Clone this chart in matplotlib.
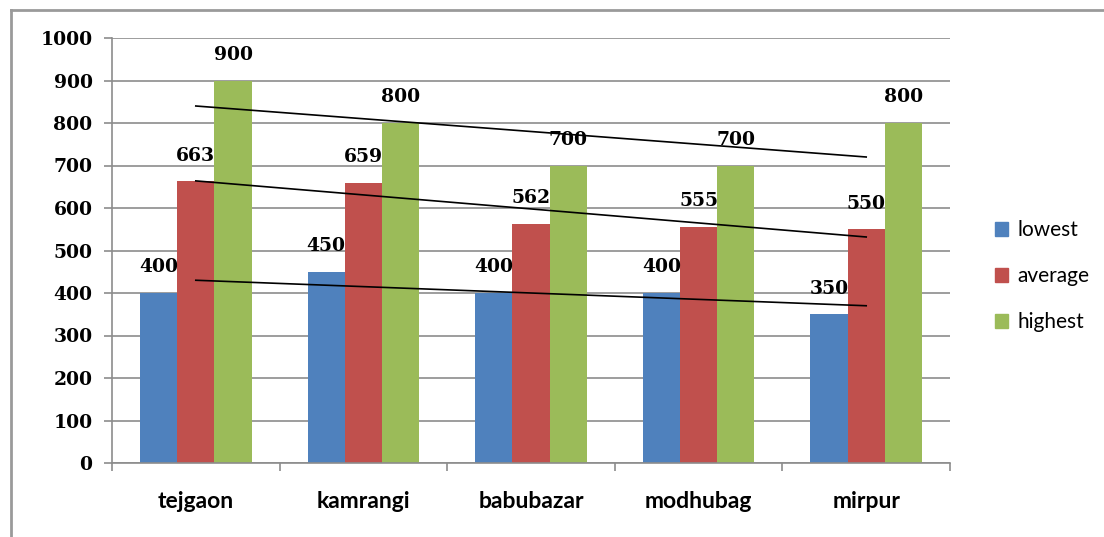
import numpy as np
import matplotlib.pyplot as plt
from matplotlib.patches import Rectangle
from matplotlib.lines import Line2D

# data
places = ['tejgaon', 'kamrangi', 'babubazar', 'modhubag', 'mirpur']
lowest = [400, 450, 400, 400, 350]
average = [663, 659, 562, 555, 550]
highest = [900, 800, 700, 700, 800]
series_names = ['lowest', 'average', 'highest']
colors = ['#4F81BD', '#C0504D', '#9BBB59']

num_font = 'DejaVu Serif'
cat_font = 'Lato'

fig = plt.figure(figsize=(11.04, 5.37), dpi=100)
ax = fig.add_axes([112 / 1104, 1 - 463 / 537, (950 - 112) / 1104, (463 - 38) / 537])

x = np.arange(len(places))
w = 0.222
for i, (vals, name, c) in enumerate(zip([lowest, average, highest], series_names, colors)):
    pos = x + (i - 1) * w
    ax.bar(pos, vals, width=w, color=c, label=name, zorder=2)
    for p, v in zip(pos, vals):
        ax.annotate(str(v), (p, v), xytext=(0, 12), textcoords='offset points',
                    ha='center', va='bottom', fontsize=13.5, fontweight='bold',
                    family=num_font, zorder=4)
    # linear trend line over the categories, like Excel
    k, b = np.polyfit(x, vals, 1)
    ax.plot(x, k * x + b, color='black', lw=1.2, zorder=3)

ax.set_xlim(-0.5, len(places) - 0.5)
ax.set_ylim(0, 1000)
ax.set_yticks(np.arange(0, 1001, 100))
ax.yaxis.grid(True, color='#8c8c8c', lw=1.2, zorder=0)
ax.set_axisbelow(True)
for s in ['top', 'right']:
    ax.spines[s].set_visible(False)
ax.spines['left'].set_color('#8c8c8c')
ax.spines['bottom'].set_color('#8c8c8c')
ax.spines['left'].set_linewidth(1.2)
ax.spines['bottom'].set_linewidth(1.2)

ax.set_xticks(x)
ax.set_xticklabels(places, fontsize=16.5, fontweight='bold', family=cat_font)
ax.tick_params(axis='x', length=0, pad=20)
ax.set_xticks(np.arange(-0.5, len(places)), minor=True)
ax.tick_params(axis='x', which='minor', length=6, color='#8c8c8c', width=1.2)
ax.tick_params(axis='y', length=6, color='#8c8c8c', width=1.2, pad=8)
for t in ax.get_yticklabels():
    t.set_fontsize(13.5)
    t.set_fontweight('bold')
    t.set_family(num_font)

handles = [Rectangle((0, 0), 1, 1, color=c) for c in colors]
leg = fig.legend(handles, series_names, loc='center left', bbox_to_anchor=(976 / 1104, 1 - 276 / 537),
                 frameon=False, handlelength=0.65, handleheight=0.65, handletextpad=0.45,
                 labelspacing=1.25, prop={'family': cat_font, 'size': 15})

# grey frame around the chart
fig.add_artist(Line2D([11 / 1104, 11 / 1104], [0, 1 - 10 / 537], color='#9a9a9a', lw=2))
fig.add_artist(Line2D([11 / 1104, 1], [1 - 10 / 537, 1 - 10 / 537], color='#9a9a9a', lw=2))

fig.savefig('out.png', dpi=100)
